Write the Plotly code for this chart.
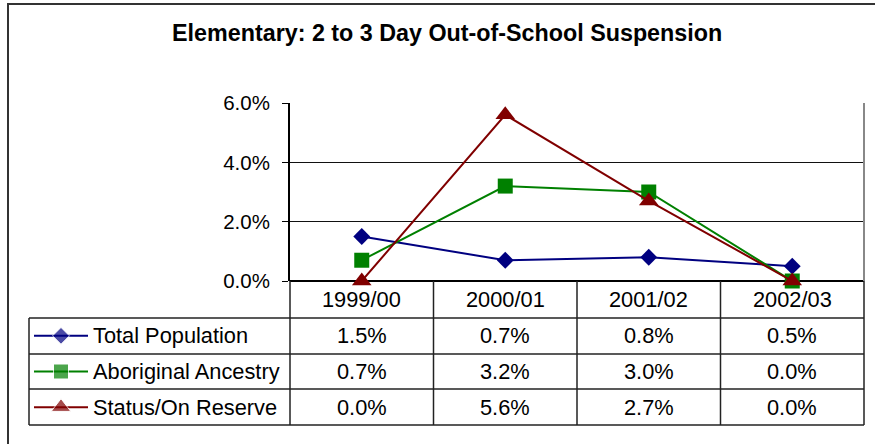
import plotly.graph_objects as go

# data
years = ["1999/00", "2000/01", "2001/02", "2002/03"]
series_names = ["Total Population", "Aboriginal Ancestry", "Status/On Reserve"]
total_population = [1.5, 0.7, 0.8, 0.5]
aboriginal_ancestry = [0.7, 3.2, 3.0, 0.0]
status_on_reserve = [0.0, 5.6, 2.7, 0.0]
y_ticks = [0.0, 2.0, 4.0, 6.0]

W, H = 875, 444
FONT = "Liberation Sans, Arial, sans-serif"


def px_x(p):
    return p / W


def px_y(p):
    return 1 - p / H


styles = [
    dict(color="#000080", symbol="diamond", size=13),
    dict(color="#008000", symbol="square", size=15),
    dict(color="#800000", symbol="triangle-up", size=17),
]
values = [total_population, aboriginal_ancestry, status_on_reserve]

# plot area / table geometry (pixels)
PX0, PX1 = 290, 864
PY_TOP, PY_ZERO = 103, 281
ROW_LINES = [318, 354, 389, 425]
TABLE_LEFT = 29

fig = go.Figure()

for name, vals, st in zip(series_names, values, styles):
    fig.add_trace(go.Scatter(
        x=years, y=vals, mode="lines+markers", name=name,
        line=dict(color=st["color"], width=2),
        marker=dict(color=st["color"], symbol=st["symbol"], size=st["size"]),
        cliponaxis=False, showlegend=False,
    ))
    # legend key inside the table row
    fig.add_trace(go.Scatter(
        x=[0, 1, 2], y=[name] * 3, mode="lines+markers",
        line=dict(color=st["color"], width=2),
        marker=dict(color=st["color"], symbol=st["symbol"],
                    size=[0, st["size"], 0]),
        xaxis="x2", yaxis="y2", showlegend=False, hoverinfo="skip",
        cliponaxis=False,
    ))

shapes = []
line_col = "#222222"
# outer chart border
shapes.append(dict(type="rect", xref="paper", yref="paper",
                   x0=px_x(8), x1=px_x(W + 20), y0=px_y(H + 20), y1=px_y(4),
                   line=dict(color="#333333", width=2)))
# plot area right border
shapes.append(dict(type="line", xref="paper", yref="paper",
                   x0=px_x(PX1), x1=px_x(PX1), y0=px_y(PY_ZERO), y1=px_y(PY_TOP),
                   line=dict(color="#888888", width=2)))
# horizontal table lines
for r in ROW_LINES:
    shapes.append(dict(type="line", xref="paper", yref="paper",
                       x0=px_x(TABLE_LEFT), x1=px_x(PX1), y0=px_y(r), y1=px_y(r),
                       line=dict(color=line_col, width=1.5)))
# vertical table lines
col_w = (PX1 - PX0) / len(years)
for i in range(len(years) + 1):
    xx = PX0 + i * col_w
    shapes.append(dict(type="line", xref="paper", yref="paper",
                       x0=px_x(xx), x1=px_x(xx), y0=px_y(ROW_LINES[-1]), y1=px_y(PY_ZERO),
                       line=dict(color=line_col, width=1.5)))
shapes.append(dict(type="line", xref="paper", yref="paper",
                   x0=px_x(TABLE_LEFT), x1=px_x(TABLE_LEFT),
                   y0=px_y(ROW_LINES[-1]), y1=px_y(ROW_LINES[0]),
                   line=dict(color=line_col, width=1.5)))

TXT = dict(size=21.8, color="black", family=FONT)
annotations = []
# header row
for yr in years:
    annotations.append(dict(x=yr, y=px_y((PY_ZERO + ROW_LINES[0]) / 2), xref="x", yref="paper",
                            text=yr, showarrow=False, yanchor="middle", font=TXT))
# values
for name, vals in zip(series_names, values):
    for yr, v in zip(years, vals):
        annotations.append(dict(x=yr, y=name, xref="x", yref="y2", text=f"{v:.1f}%",
                                showarrow=False, yanchor="middle", font=TXT))
    annotations.append(dict(x=px_x(91), y=name, xref="paper", yref="y2", text=name,
                            xanchor="left", yanchor="middle", showarrow=False, font=TXT))

fig.update_layout(
    width=W, height=H,
    margin=dict(l=0, r=0, t=0, b=0, pad=0, autoexpand=False),
    paper_bgcolor="white", plot_bgcolor="white",
    title=dict(text="<b>Elementary: 2 to 3 Day Out-of-School Suspension</b>",
               x=0.511, xanchor="center", y=px_y(33), yanchor="middle",
               yref="container", automargin=False,
               font=dict(size=23.3, color="black", family=FONT)),
    xaxis=dict(domain=[px_x(PX0), px_x(PX1)], type="category", automargin=False,
               range=[-0.5, len(years) - 0.5], showticklabels=False,
               showgrid=False, zeroline=False, showline=False, ticks=""),
    yaxis=dict(domain=[px_y(PY_ZERO), px_y(PY_TOP)], range=[0, 6], automargin=False,
               tickvals=y_ticks, ticktext=[f"{t:.1f}%" for t in y_ticks],
               ticks="outside", ticklen=6, tickcolor="black", ticklabelstandoff=8,
               showline=True, linecolor="black", linewidth=2,
               showgrid=True, gridcolor="#111111", gridwidth=1,
               zeroline=True, zerolinecolor="black", zerolinewidth=2,
               tickfont=dict(size=20.5, color="black", family=FONT)),
    xaxis2=dict(domain=[px_x(34), px_x(88)], range=[0, 2], visible=False, automargin=False),
    yaxis2=dict(domain=[px_y(ROW_LINES[-1]), px_y(ROW_LINES[0])], type="category",
                categoryorder="array", categoryarray=series_names[::-1],
                range=[-0.5, 2.5], visible=False, automargin=False),
    shapes=shapes,
    annotations=annotations,
)

fig.write_html("out.html", config={"displayModeBar": False},
               post_script="document.body.style.margin='0';")
